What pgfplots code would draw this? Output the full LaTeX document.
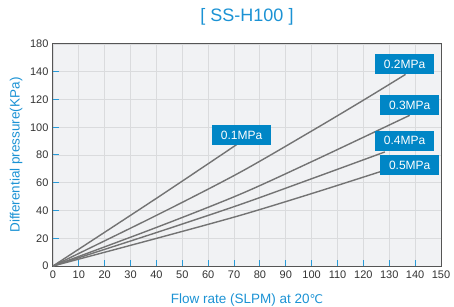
\documentclass[border=0pt]{standalone}
\usepackage{pgfplots}
\pgfplotsset{compat=1.18}
\usepackage{fontspec}
\setmainfont{Liberation Sans}
\newfontfamily\dejavu{DejaVu Sans}
\definecolor{titleblue}{RGB}{27,146,212}
\definecolor{boxblue}{RGB}{0,134,198}
\definecolor{tickblue}{RGB}{40,154,216}
\definecolor{bggray}{RGB}{241,242,244}
\definecolor{gridgray}{RGB}{218,219,221}
\definecolor{framegray}{RGB}{85,85,85}
\definecolor{linegray}{RGB}{115,115,115}
\definecolor{ticktext}{RGB}{51,51,51}
\tikzset{pline/.style={color=linegray, line width=1.4pt, line join=round, mark=none, smooth}}
\begin{document}
\begin{tikzpicture}
\useasboundingbox (-53pt,-41pt) rectangle (401pt,266pt);
\begin{axis}[
  at={(0pt,0pt)}, anchor=south west,
  scale only axis, width=388pt, height=222pt,
  xmin=0, xmax=150, ymin=0, ymax=160,
  xtick={0,10,...,150},
  ytick={0,20,...,160},
  yticklabels={0,20,40,60,80,100,120,140,180},
  /pgf/number format/assume math mode=true,
  tick label style={font=\fontsize{11}{13}\selectfont, text=ticktext},
  xticklabel style={yshift=-1pt},
  yticklabel style={xshift=-1pt},
  tick pos=left, tick align=inside,
  major tick length=6pt,
  tick style={color=tickblue, line width=1pt},
  grid=major,
  major grid style={color=gridgray, line width=0.9pt},
  axis line style={color=framegray, line width=1pt},
  axis background/.style={fill=bggray},
  title={[ SS-H100 ]},
  title style={at={(axis description cs:0.5,1.095)}, anchor=center, font=\fontsize{18}{20}\selectfont, text=titleblue},
  xlabel={Flow rate (SLPM) at 20{\dejavu\fontsize{12}{14}\selectfont ℃}},
  ylabel={Differential pressure(KPa)},
  xlabel style={at={(axis description cs:0.5,-0.153)}, anchor=center, font=\fontsize{13.5}{15}\selectfont, text=titleblue},
  ylabel style={at={(axis description cs:-0.095,0.5)}, anchor=center, rotate=0, font=\fontsize{13.5}{15}\selectfont, text=titleblue},
  clip=false,
]
\addplot[pline] coordinates {(0,0) (40,48.8) (71,87.5)};
\addplot[pline] coordinates {(0,0) (40,36.5) (72,67.2) (100,97.3) (120,119.5) (136.3,138.1)};
\addplot[pline] coordinates {(0,0) (40,27.8) (72.2,51.6) (100,75.2) (137.9,108.6)};
\addplot[pline] coordinates {(0,0) (40,24.1) (72.2,44.2) (100,62.9) (128.3,82.2)};
\addplot[pline] coordinates {(0,0) (40,19.9) (72.2,36.4) (100,52.2) (126.4,67.9)};
\tikzset{mpabox/.style={fill=boxblue, text=white, minimum width=59pt, minimum height=20pt, inner sep=0pt, font=\fontsize{12}{14}\selectfont}}
\node[mpabox] at (axis cs:72.9,94.4) {0.1MPa};
\node[mpabox] at (axis cs:135.9,145.6) {0.2MPa};
\node[mpabox] at (axis cs:137.9,116.0) {0.3MPa};
\node[mpabox] at (axis cs:135.9,90.3) {0.4MPa};
\node[mpabox] at (axis cs:137.9,72.8) {0.5MPa};
\end{axis}
\end{tikzpicture}
\end{document}
